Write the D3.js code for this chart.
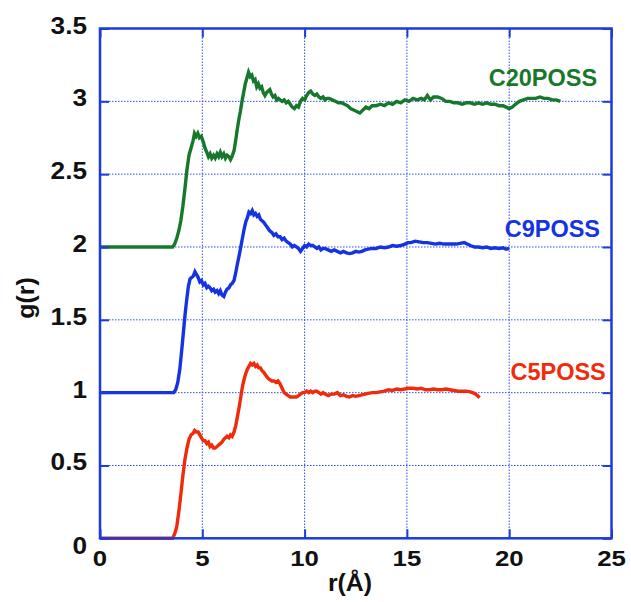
<!DOCTYPE html>
<html><head><meta charset="utf-8">
<script src="https://cdn.jsdelivr.net/npm/d3@7"></script>
<style>body{margin:0;background:#fff;}svg{display:block;}</style>
</head><body>
<svg id="chart" width="631" height="602"></svg>
<script>
const xTicks = [0, 5, 10, 15, 20, 25];
const yTicks = [0, 0.5, 1, 1.5, 2, 2.5, 3, 3.5];
const xTickLabels = ["0", "5", "10", "15", "20", "25"];
const yTickLabels = ["0", "0.5", "1", "1.5", "2", "2.5", "3", "3.5"];
const seriesNames = ["C20POSS", "C9POSS", "C5POSS"];
const seriesColors = ["#17782c", "#1533e2", "#ef2b0b"];

const c20 = [[0,2],[3.55,2],[3.65,2.02],[3.75,2.06],[3.85,2.11],[3.95,2.18],[4.05,2.28],[4.15,2.4],[4.25,2.53],[4.35,2.63],[4.45,2.68],[4.55,2.73],[4.62,2.78],[4.7,2.76],[4.78,2.78],[4.86,2.75],[4.95,2.76],[5.05,2.72],[5.13,2.68],[5.22,2.65],[5.3,2.62],[5.38,2.64],[5.46,2.61],[5.55,2.63],[5.63,2.61],[5.72,2.64],[5.8,2.62],[5.88,2.65],[5.96,2.62],[6.05,2.64],[6.13,2.61],[6.21,2.63],[6.3,2.62],[6.38,2.6],[6.45,2.62],[6.55,2.66],[6.62,2.72],[6.7,2.8],[6.78,2.87],[6.86,2.93],[6.94,3.0],[7.02,3.06],[7.1,3.12],[7.18,3.16],[7.26,3.2],[7.34,3.17],[7.42,3.18],[7.5,3.14],[7.58,3.15],[7.66,3.1],[7.74,3.12],[7.82,3.09],[7.9,3.1],[7.98,3.06],[8.06,3.04],[8.14,3.06],[8.22,3.07],[8.3,3.08],[8.38,3.05],[8.46,3.03],[8.55,3.04],[8.63,3.01],[8.72,3.02],[8.8,3.01],[8.9,3.0],[9.0,3.01],[9.1,2.99],[9.2,3.0],[9.3,2.98],[9.4,2.96],[9.5,2.95],[9.6,2.97],[9.7,2.96],[9.8,3.0],[9.9,3.02],[10.0,3.01],[10.1,3.04],[10.2,3.06],[10.3,3.07],[10.4,3.05],[10.5,3.04],[10.6,3.05],[10.7,3.03],[10.8,3.02],[10.9,3.03],[11.0,3.01],[11.1,3.02],[11.2,3.02],[11.35,3.01],[11.5,3.0],[11.65,2.99],[11.8,2.99],[11.95,2.98],[12.1,2.97],[12.25,2.95],[12.4,2.94],[12.55,2.93],[12.7,2.92],[12.85,2.94],[13.0,2.96],[13.15,2.95],[13.3,2.97],[13.5,2.97],[13.7,2.98],[13.9,2.97],[14.1,2.99],[14.3,2.98],[14.5,3.0],[14.7,2.99],[14.9,3.01],[15.1,3.0],[15.3,3.02],[15.5,3.01],[15.7,3.02],[15.85,3.01],[16.0,3.04],[16.15,3.01],[16.3,3.03],[16.5,3.03],[16.7,3.02],[16.9,3.0],[17.1,3.0],[17.3,2.99],[17.5,2.99],[17.7,2.98],[17.9,2.99],[18.1,2.99],[18.3,2.98],[18.5,2.99],[18.7,2.98],[18.9,2.99],[19.1,2.98],[19.3,2.98],[19.5,2.97],[19.7,2.97],[19.85,2.96],[20.0,2.95],[20.15,2.96],[20.3,2.98],[20.5,3.0],[20.7,3.01],[20.9,3.02],[21.1,3.02],[21.3,3.02],[21.5,3.03],[21.7,3.02],[21.9,3.02],[22.1,3.01],[22.3,3.01],[22.5,3.0]];

const c9 = [[0,1],[3.6,1],[3.7,1.02],[3.8,1.07],[3.9,1.16],[4.0,1.3],[4.08,1.42],[4.16,1.54],[4.24,1.64],[4.32,1.73],[4.4,1.78],[4.48,1.79],[4.56,1.8],[4.64,1.83],[4.72,1.81],[4.8,1.79],[4.88,1.76],[4.96,1.77],[5.05,1.74],[5.13,1.75],[5.22,1.72],[5.3,1.73],[5.38,1.72],[5.46,1.7],[5.55,1.71],[5.63,1.69],[5.72,1.7],[5.8,1.68],[5.88,1.7],[5.96,1.67],[6.05,1.66],[6.13,1.69],[6.21,1.71],[6.3,1.72],[6.38,1.74],[6.46,1.75],[6.55,1.77],[6.63,1.82],[6.71,1.88],[6.8,1.94],[6.88,2.0],[6.96,2.06],[7.04,2.12],[7.12,2.17],[7.2,2.2],[7.28,2.24],[7.36,2.23],[7.44,2.25],[7.52,2.22],[7.6,2.23],[7.68,2.21],[7.76,2.22],[7.84,2.19],[7.92,2.18],[8.0,2.17],[8.1,2.15],[8.2,2.13],[8.3,2.11],[8.4,2.1],[8.5,2.08],[8.6,2.09],[8.7,2.07],[8.8,2.07],[8.9,2.05],[9.0,2.06],[9.1,2.04],[9.2,2.03],[9.3,2.02],[9.4,2.0],[9.5,2.01],[9.6,2.0],[9.7,1.99],[9.8,1.97],[9.9,1.99],[10.0,2.01],[10.1,2.0],[10.2,2.02],[10.3,2.01],[10.4,2.01],[10.5,2.0],[10.6,1.99],[10.7,2.0],[10.8,1.98],[10.9,1.99],[11.0,1.99],[11.15,1.98],[11.3,1.97],[11.45,1.98],[11.6,1.97],[11.75,1.96],[11.9,1.97],[12.05,1.96],[12.2,1.955],[12.35,1.96],[12.5,1.97],[12.65,1.965],[12.8,1.97],[12.95,1.98],[13.1,1.985],[13.3,1.99],[13.5,1.99],[13.7,2.0],[13.9,1.995],[14.1,2.0],[14.3,2.01],[14.5,2.005],[14.7,2.01],[14.9,2.02],[15.05,2.03],[15.2,2.03],[15.4,2.04],[15.6,2.035],[15.8,2.03],[16.0,2.03],[16.2,2.025],[16.4,2.02],[16.6,2.025],[16.8,2.02],[17.0,2.02],[17.2,2.02],[17.4,2.02],[17.6,2.025],[17.8,2.03],[17.95,2.02],[18.1,2.01],[18.3,2.0],[18.5,2.0],[18.7,1.995],[18.9,2.0],[19.1,1.99],[19.3,1.995],[19.5,1.99],[19.7,1.995],[19.85,1.985],[20.0,1.99]];

const c5 = [[0,0],[3.55,0],[3.65,0.03],[3.75,0.08],[3.85,0.18],[3.95,0.3],[4.05,0.43],[4.15,0.54],[4.25,0.62],[4.35,0.68],[4.45,0.71],[4.55,0.72],[4.63,0.74],[4.71,0.73],[4.8,0.73],[4.88,0.71],[4.96,0.69],[5.05,0.67],[5.13,0.67],[5.22,0.65],[5.3,0.66],[5.38,0.63],[5.46,0.64],[5.55,0.62],[5.63,0.62],[5.72,0.63],[5.8,0.64],[5.88,0.65],[5.96,0.66],[6.05,0.68],[6.13,0.69],[6.21,0.7],[6.3,0.69],[6.38,0.71],[6.46,0.7],[6.55,0.73],[6.63,0.77],[6.71,0.83],[6.8,0.9],[6.88,0.97],[6.96,1.04],[7.04,1.09],[7.12,1.13],[7.2,1.16],[7.28,1.18],[7.36,1.2],[7.44,1.19],[7.52,1.2],[7.6,1.18],[7.68,1.19],[7.76,1.17],[7.84,1.17],[7.92,1.15],[8.0,1.14],[8.1,1.12],[8.2,1.1],[8.3,1.09],[8.4,1.08],[8.5,1.08],[8.6,1.07],[8.7,1.08],[8.8,1.06],[8.9,1.03],[9.0,1.0],[9.1,0.99],[9.2,0.98],[9.3,0.97],[9.4,0.97],[9.5,0.97],[9.6,0.97],[9.7,0.98],[9.8,0.99],[9.9,1.0],[10.0,1.0],[10.1,1.01],[10.2,1.0],[10.3,1.01],[10.4,1.0],[10.5,1.01],[10.6,1.01],[10.7,1.0],[10.8,0.99],[10.9,1.0],[11.0,0.99],[11.15,0.98],[11.3,0.99],[11.45,0.99],[11.6,1.0],[11.75,0.98],[11.9,0.985],[12.05,0.975],[12.2,0.97],[12.35,0.98],[12.5,0.975],[12.65,0.98],[12.8,0.985],[12.95,0.99],[13.1,0.995],[13.3,1.0],[13.5,1.0],[13.7,1.005],[13.9,1.01],[14.1,1.02],[14.3,1.015],[14.5,1.025],[14.7,1.02],[14.9,1.025],[15.1,1.03],[15.3,1.03],[15.5,1.025],[15.7,1.03],[15.9,1.02],[16.1,1.02],[16.3,1.025],[16.5,1.02],[16.7,1.02],[16.9,1.025],[17.1,1.02],[17.3,1.015],[17.5,1.01],[17.7,1.01],[17.9,1.01],[18.1,1.005],[18.3,0.995],[18.45,0.98],[18.55,0.965]];

const labelPos = [[19.0, 3.105], [19.78, 2.07], [20.06, 1.088]];

const svg = d3.select("#chart");
const L = 100, R = 611.5, T = 28.5, B = 538.3;
const x = d3.scaleLinear().domain([0, 25]).range([L, R]);
const y = d3.scaleLinear().domain([0, 3.5]).range([B, T]);
const frameColor = "#1b3be0";
const font = "'Liberation Sans', Arial, Helvetica, sans-serif";

// grid
const grid = svg.append("g");
grid.selectAll("line.gx").data(xTicks.slice(1, -1)).join("line")
  .attr("x1", d => x(d)).attr("x2", d => x(d)).attr("y1", T).attr("y2", B)
  .attr("stroke", "#2f4ff0").attr("stroke-width", 1).attr("stroke-dasharray", "1.5,1.5");
grid.selectAll("line.gy").data(yTicks.slice(1, -1)).join("line")
  .attr("y1", d => y(d)).attr("y2", d => y(d)).attr("x1", L).attr("x2", R)
  .attr("stroke", "#2f4ff0").attr("stroke-width", 1).attr("stroke-dasharray", "1.5,1.5");

// curves
const line = d3.line().x(d => x(d[0])).y(d => y(d[1]));
[c20, c9, c5].forEach((s, i) => {
  svg.append("path").datum(s).attr("d", line)
    .attr("fill", "none").attr("stroke", seriesColors[i])
    .attr("stroke-width", 3.4).attr("stroke-linejoin", "miter");
});

// axes (ticks inward)
const axB = d3.axisBottom(x).tickValues(xTicks).tickSize(-9).tickFormat("");
const axT = d3.axisTop(x).tickValues(xTicks).tickSize(-9).tickFormat("");
const axL = d3.axisLeft(y).tickValues(yTicks).tickSize(-9).tickFormat("");
const axR = d3.axisRight(y).tickValues(yTicks).tickSize(-9).tickFormat("");
[[axB, `translate(0,${B})`], [axT, `translate(0,${T})`], [axL, `translate(${L},0)`], [axR, `translate(${R},0)`]].forEach(([a, t]) => {
  const g = svg.append("g").attr("transform", t).call(a);
  g.select(".domain").remove();
  g.selectAll("line").attr("stroke", frameColor).attr("stroke-width", 2);
});
svg.append("rect").attr("x", L).attr("y", T).attr("width", R - L).attr("height", B - T)
  .attr("fill", "none").attr("stroke", frameColor).attr("stroke-width", 2.5);

// tick labels
svg.selectAll("text.xt").data(xTicks).join("text")
  .attr("transform", d => `translate(${x(d)},${B + 28}) scale(1.12,1)`)
  .attr("text-anchor", "middle").attr("font-family", font).attr("font-weight", "bold")
  .attr("font-size", 23).attr("fill", "#111")
  .text((d, i) => xTickLabels[i]);
svg.selectAll("text.yt").data(yTicks).join("text")
  .attr("transform", d => `translate(87,${y(d) + (d === 0 ? 16 : 5)}) scale(1.14,1)`)
  .attr("text-anchor", "end").attr("font-family", font).attr("font-weight", "bold")
  .attr("font-size", 23).attr("fill", "#111")
  .text((d, i) => yTickLabels[i]);

// axis titles
svg.append("text").attr("transform", "translate(350,591) scale(1.08,1)").attr("text-anchor", "middle")
  .attr("font-family", font).attr("font-weight", "bold").attr("font-size", 23).attr("fill", "#111")
  .text("r(Å)");
svg.append("text").attr("transform", "translate(34,298) rotate(-90) scale(1.08,1)").attr("text-anchor", "middle")
  .attr("font-family", font).attr("font-weight", "bold").attr("font-size", 23).attr("fill", "#111")
  .text("g(r)");

// series labels
svg.selectAll("text.sl").data(seriesNames).join("text")
  .attr("x", (d, i) => x(labelPos[i][0])).attr("y", (d, i) => y(labelPos[i][1]))
  .attr("font-family", font).attr("font-weight", "bold").attr("font-size", 23.5)
  .attr("fill", (d, i) => seriesColors[i])
  .text(d => d);
</script>
</body></html>
